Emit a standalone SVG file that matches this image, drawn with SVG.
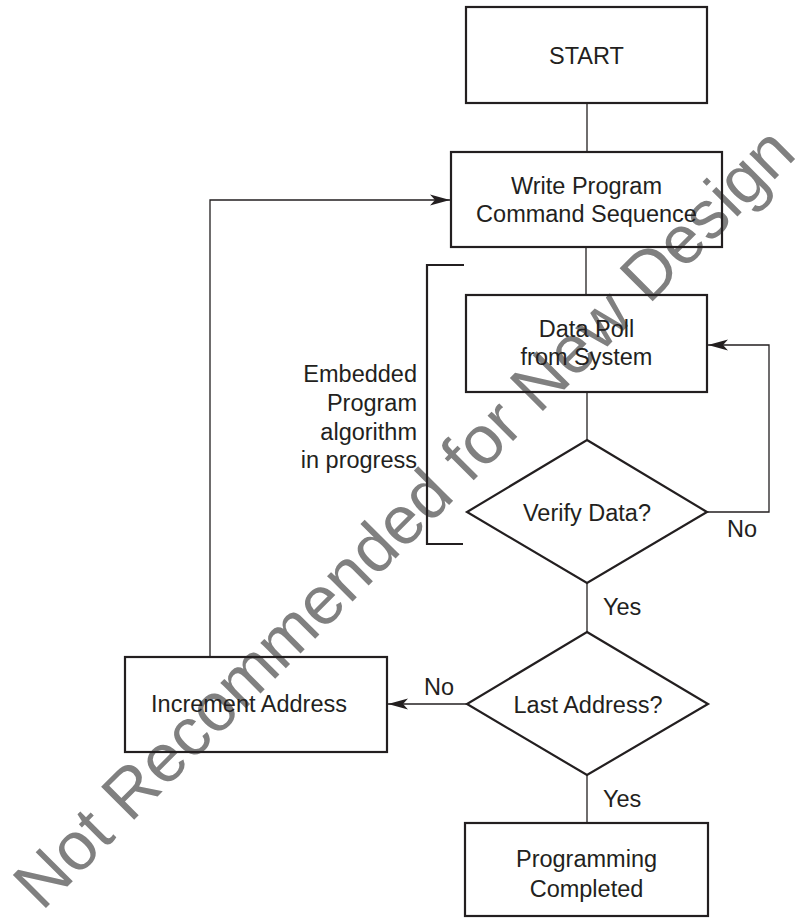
<svg xmlns="http://www.w3.org/2000/svg" width="799" height="919" viewBox="0 0 799 919">
<style>
text{font-family:"Liberation Sans",Arial,sans-serif;font-size:23.5px;fill:#231f20}
.c{text-anchor:middle}
.r{text-anchor:end}
.box{fill:none;stroke:#231f20;stroke-width:2.2}
.ln{fill:none;stroke:#231f20;stroke-width:1.3}
.wm{font-size:68px;fill:#808080;text-anchor:start}
</style>
<defs>
<marker id="ah" markerUnits="userSpaceOnUse" markerWidth="22" markerHeight="14" refX="20" refY="7" orient="auto">
<path d="M0,1.5 L20,7 L0,12.5 L5,7 z" fill="#231f20"/>
</marker>
</defs>
<text class="wm" transform="translate(42,912) rotate(-45)">Not Recommended for New Design</text>
<g id="connectors">
<line class="ln" x1="587" y1="103" x2="587" y2="152"/>
<line class="ln" x1="586" y1="247" x2="586" y2="295"/>
<line class="ln" x1="587" y1="392" x2="587" y2="440"/>
<path class="ln" d="M707,512 H769 V345 H708" marker-end="url(#ah)"/>
<line class="ln" x1="587" y1="583" x2="587" y2="632"/>
<path class="ln" d="M467,704 H388" marker-end="url(#ah)"/>
<line class="ln" x1="587" y1="775" x2="587" y2="823"/>
<path class="ln" d="M210,657 V200 H450" marker-end="url(#ah)"/>
<text x="727" y="537">No</text>
<text x="603" y="615">Yes</text>
<text x="424" y="695">No</text>
<text x="603" y="807">Yes</text>
</g>
<g id="start">
<rect class="box" x="466" y="7" width="241" height="96"/>
<text class="c" x="586.5" y="64">START</text>
</g>
<g id="write">
<rect class="box" x="451" y="152" width="271" height="95"/>
<text class="c" x="586.5" y="194">Write Program</text>
<text class="c" x="586.5" y="222">Command Sequence</text>
</g>
<g id="datapoll">
<rect class="box" x="466" y="295" width="241" height="97"/>
<text class="c" x="586.5" y="337">Data Poll</text>
<text class="c" x="586.5" y="365">from System</text>
</g>
<g id="verify">
<polygon class="box" points="587,440 707,512 587,583 467,512"/>
<text class="c" x="587" y="521">Verify Data?</text>
</g>
<g id="embedded">
<path class="box" d="M464,265 H427 V544 H463"/>
<text class="r" x="417" y="382">Embedded</text>
<text class="r" x="417" y="411">Program</text>
<text class="r" x="417" y="440">algorithm</text>
<text class="r" x="417" y="468">in progress</text>
</g>
<g id="lastaddress">
<polygon class="box" points="587,632 708,704 587,775 467,704"/>
<text class="c" x="588" y="713">Last Address?</text>
</g>
<g id="increment">
<rect class="box" x="125" y="657" width="262" height="95"/>
<text class="c" x="249" y="712">Increment Address</text>
</g>
<g id="completed">
<rect class="box" x="465" y="823" width="243" height="93"/>
<text class="c" x="586.5" y="867">Programming</text>
<text class="c" x="586.5" y="897">Completed</text>
</g>
</svg>
